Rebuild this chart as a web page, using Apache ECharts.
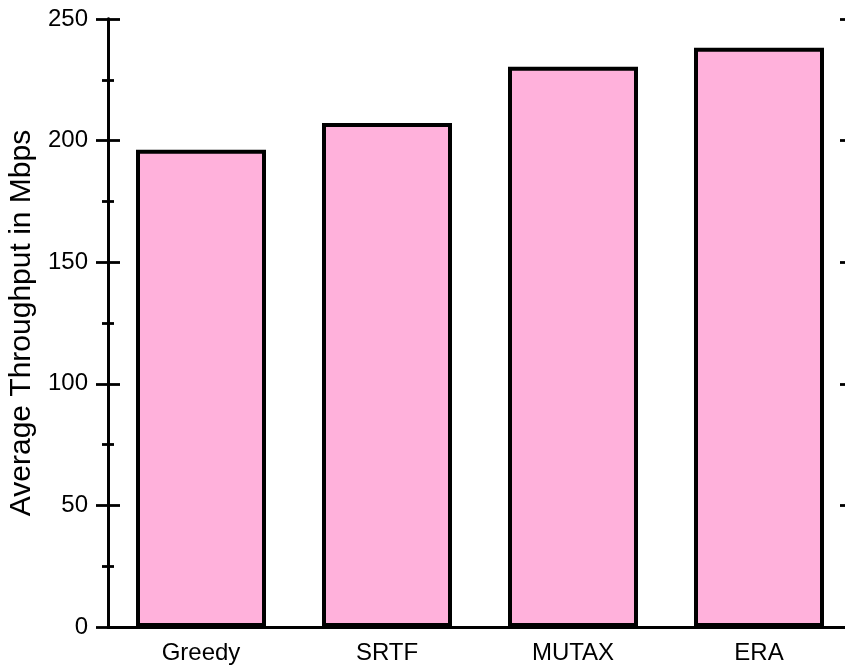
<!DOCTYPE html>
<html>
<head>
<meta charset="utf-8">
<script src="https://cdn.jsdelivr.net/npm/echarts@6/dist/echarts.min.js"></script>
<style>html,body{margin:0;padding:0;background:#fff;}#c{width:845px;height:666px;}</style>
</head>
<body>
<div id="c"></div>
<script>
const categories = ['Greedy', 'SRTF', 'MUTAX', 'ERA'];
const throughput = [196.2, 207.2, 230.4, 238.2];
const yTicks = { min: 0, max: 250, interval: 50 };

const chart = echarts.init(document.getElementById('c'), null, { renderer: 'canvas' });
const font = 'Liberation Sans, Arial, sans-serif';
const lineStyle = { color: '#000', width: 2.8 };
function yAx(pos, inside, showLabel, name) {
  return {
    type: 'value', position: pos, min: yTicks.min, max: yTicks.max, interval: yTicks.interval,
    name: name || '', nameLocation: 'middle', nameGap: 64,
    nameTextStyle: { fontFamily: font, fontSize: 30, color: '#000' },
    axisLine: { show: true, lineStyle: lineStyle },
    axisTick: { show: true, inside: inside, length: 12, lineStyle: { color: '#000', width: 2.8 } },
    minorTick: { show: true, splitNumber: 2, length: 6, lineStyle: { color: '#000', width: 2.8 } },
    axisLabel: { show: showLabel, margin: 20, fontFamily: font, fontSize: 24, color: '#000' },
    splitLine: { show: false }
  };
}
chart.setOption({
  animation: false,
  backgroundColor: '#fff',
  grid: { left: 108, right: -7, top: 19, bottom: 39, containLabel: false, outerBoundsMode: 'none' },
  xAxis: [
    {
      type: 'category', data: categories, position: 'bottom',
      axisLine: { show: true, lineStyle: lineStyle },
      axisTick: { show: false },
      axisLabel: { margin: 14, fontFamily: font, fontSize: 24, color: '#000' }
    },
    {
      type: 'category', data: categories, position: 'top',
      axisLine: { show: true, lineStyle: lineStyle },
      axisTick: { show: false }, axisLabel: { show: false }
    }
  ],
  yAxis: [
    yAx('left', false, true, 'Average Throughput in Mbps'),
    yAx('left', true, false),
    yAx('right', true, false),
    yAx('right', false, false)
  ],
  series: [{
    type: 'bar', data: throughput, xAxisIndex: 0, yAxisIndex: 0,
    barWidth: 130,
    itemStyle: { color: '#FFB1DB', borderColor: '#000', borderWidth: 4 }
  }]
});
</script>
</body>
</html>
